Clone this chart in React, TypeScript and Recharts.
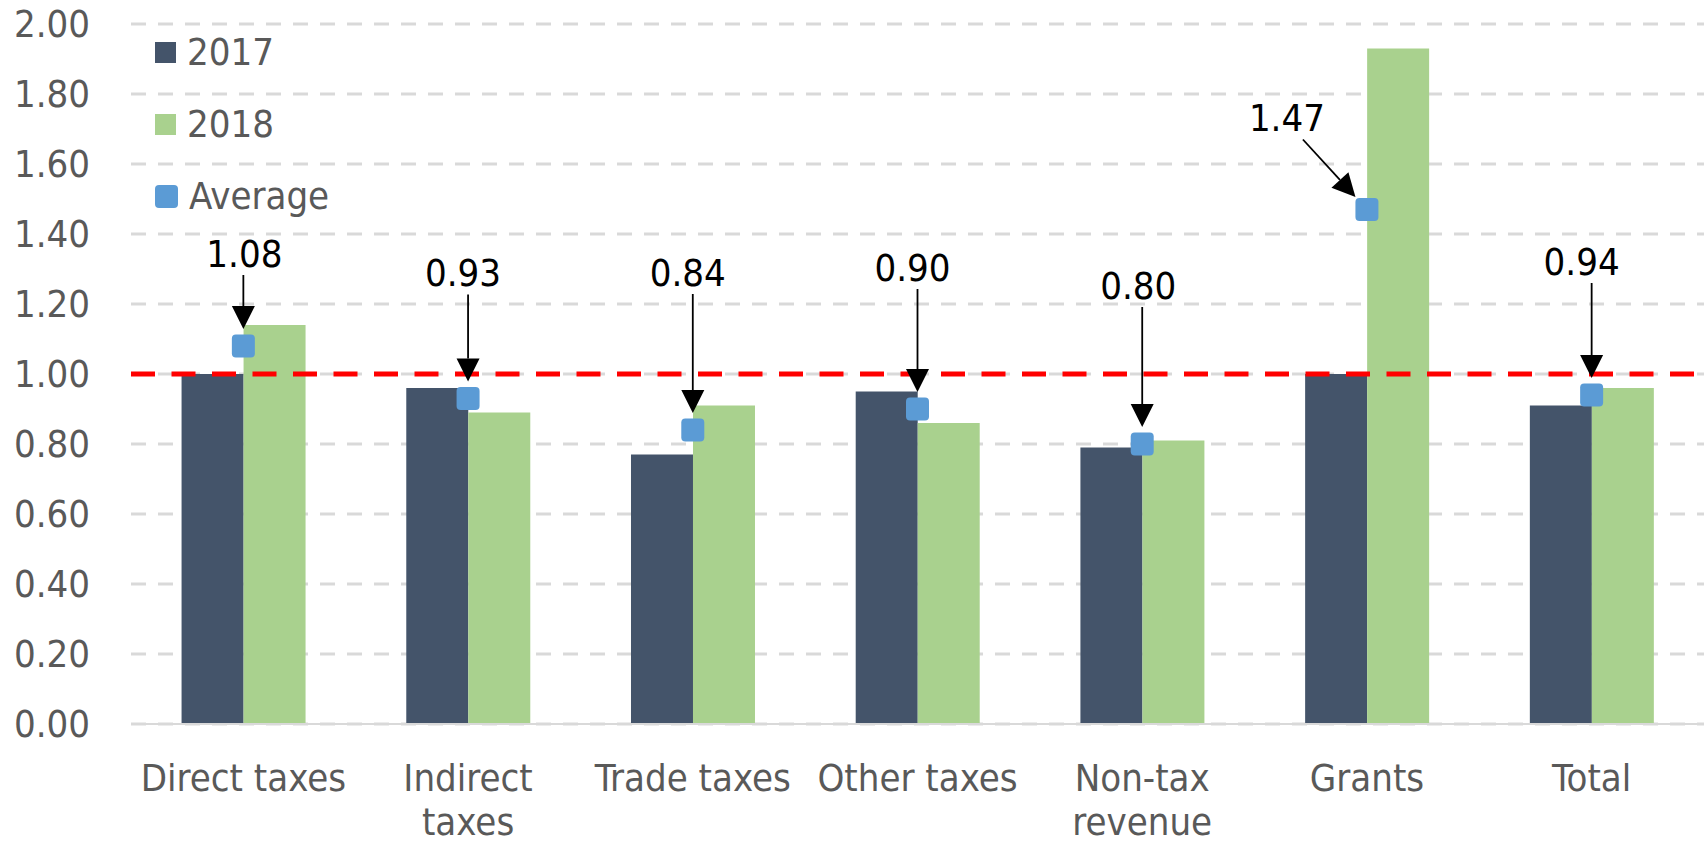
import React from 'react';
import { ComposedChart, Bar, Line, XAxis, YAxis, CartesianGrid, ReferenceLine, Legend } from 'recharts';

const categories = ['Direct taxes', 'Indirect taxes', 'Trade taxes', 'Other taxes', 'Non-tax revenue', 'Grants', 'Total'];
const values2017 = [1.0, 0.96, 0.77, 0.95, 0.79, 1.0, 0.91];
const values2018 = [1.14, 0.89, 0.91, 0.86, 0.81, 1.93, 0.96];
const average = [1.08, 0.93, 0.84, 0.9, 0.8, 1.47, 0.94];
const yTicks = [0, 0.2, 0.4, 0.6, 0.8, 1.0, 1.2, 1.4, 1.6, 1.8, 2.0];
const seriesNames = ['2017', '2018', 'Average'];

// callout placement, px relative to the average marker: [text dx, text dy, arrow start dx]
const callouts = [
  [1, -93, 0],
  [-5, -126, 0],
  [-5, -158, 0],
  [-5, -142, 0],
  [-4, -159, 0],
  [-80, -92, -64],
  [-10, -134, 0],
];

const FONT = "'DejaVu Sans Condensed', 'DejaVu Sans', sans-serif";
const DARK = '#44546a';
const GREEN = '#a9d18e';
const BLUE = '#5b9bd5';
const GREY_TEXT = '#595959';

const data = categories.map((name, i) => ({
  name,
  y2017: values2017[i],
  y2018: values2018[i],
  avg: average[i],
}));

function AvgMarker(props: any) {
  const { cx, cy, index } = props;
  if (cx == null || cy == null) return null;
  const [tdx, tdy, adx] = callouts[index];
  const sx = adx;
  const sy = tdy + 22;
  const len = Math.hypot(sx, sy);
  const ux = -sx / len;
  const uy = -sy / len;
  const tipX = sx / len * 17;
  const tipY = sy / len * 17;
  const headLen = 23;
  const baseX = tipX - ux * headLen;
  const baseY = tipY - uy * headLen;
  const px = -uy * 11.5;
  const py = ux * 11.5;
  return (
    <g key={`avg-${index}`}>
      <text x={cx + tdx} y={cy + tdy} dy="0.36em" textAnchor="middle" fontSize={38} fill="#000">
        {average[index].toFixed(2)}
      </text>
      <line x1={cx + sx} y1={cy + sy} x2={cx + baseX} y2={cy + baseY} stroke="#000" strokeWidth={1.8} />
      <polygon
        points={`${cx + tipX},${cy + tipY} ${cx + baseX + px},${cy + baseY + py} ${cx + baseX - px},${cy + baseY - py}`}
        fill="#000"
      />
      <rect x={cx - 11.5} y={cy - 11.5} width={23} height={23} rx={4} fill={BLUE} />
    </g>
  );
}

function CategoryTick(props: any) {
  const { x, y, payload } = props;
  const label: string = payload.value;
  const lines = label.length > 12 ? label.split(' ') : [label];
  return (
    <g>
      {lines.map((ln, i) => (
        <text key={i} x={x} y={y + 67 + i * 44} textAnchor="middle" fontSize={38} fill={GREY_TEXT}>
          {ln}
        </text>
      ))}
    </g>
  );
}

function LegendBox() {
  const colors = [DARK, GREEN, BLUE];
  return (
    <div style={{ fontFamily: FONT, fontSize: 38, color: GREY_TEXT }}>
      {seriesNames.map((n, i) => (
        <div key={n} style={{ display: 'flex', alignItems: 'center', height: 72 }}>
          <span
            style={{
              display: 'inline-block',
              width: i === 2 ? 23 : 21,
              height: i === 2 ? 23 : 21,
              borderRadius: i === 2 ? 4 : 0,
              background: colors[i],
              marginRight: 11,
            }}
          />
          <span>{n}</span>
        </div>
      ))}
    </div>
  );
}

export default function App() {
  return (
    <div style={{ position: 'fixed', top: 0, left: 0, width: 1707, height: 844, background: '#fff', fontFamily: FONT }}>
      <ComposedChart
        width={1707}
        height={844}
        data={data}
        margin={{ top: 24, right: 3, bottom: 0, left: 0 }}
        barCategoryGap="22.5%"
        barGap={0}
      >
        <CartesianGrid vertical={false} stroke="#d9d9d9" strokeWidth={3} strokeDasharray="15 12" />
        <XAxis
          dataKey="name"
          height={120}
          tickLine={false}
          tickSize={0}
          tickMargin={0}
          axisLine={{ stroke: '#d9d9d9', strokeWidth: 2 }}
          tick={<CategoryTick />}
          interval={0}
        />
        <YAxis
          width={131}
          domain={[0, 2]}
          ticks={yTicks}
          tickFormatter={(v: number) => v.toFixed(2)}
          axisLine={false}
          tickLine={false}
          tickSize={0}
          tickMargin={41}
          tick={{ fontSize: 38, fill: GREY_TEXT, fontFamily: FONT }}
        />
        <Legend
          layout="vertical"
          align="center"
          verticalAlign="middle"
          wrapperStyle={{ top: 16, left: 155, width: 'auto', height: 'auto' }}
          content={() => <LegendBox />}
        />
        <Bar dataKey="y2017" name="2017" fill={DARK} isAnimationActive={false} />
        <Bar dataKey="y2018" name="2018" fill={GREEN} isAnimationActive={false} />
        <ReferenceLine y={1} stroke="#ff0000" strokeWidth={5} strokeDasharray="24 16.5" />
        <Line
          dataKey="avg"
          name="Average"
          stroke="none"
          dot={(p: any) => <AvgMarker {...p} key={`m-${p.index}`} />}
          activeDot={false}
          isAnimationActive={false}
        />
      </ComposedChart>
    </div>
  );
}
